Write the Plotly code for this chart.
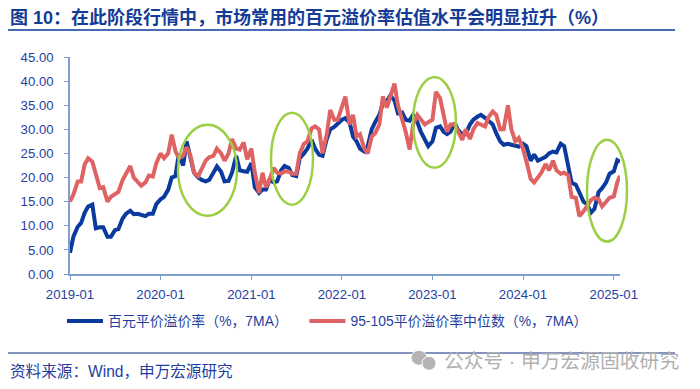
import plotly.graph_objects as go

TITLE = "图 10：在此阶段行情中，市场常用的百元溢价率估值水平会明显拉升（%）"
SOURCE = "资料来源：Wind，申万宏源研究"
WATERMARK = "公众号 · 申万宏源固收研究"
NAME_A = "百元平价溢价率（%，7MA）"
NAME_B = "95-105平价溢价率中位数（%，7MA）"

dates = [f"{y}-{m:02d}-{d:02d}" for y in range(2019, 2025) for m in range(1, 13) for d in (1, 15)]
dates += ["2025-01-01", "2025-01-15", "2025-01-26"]

parity_premium = [
    4.4, 7.8, 9.8, 10.6, 12.7, 14.0, 14.4, 9.5, 9.7, 9.7, 7.7, 7.7, 9.1, 9.3, 11.5, 12.5, 13.1, 12.4, 12.5, 12.2, 12.0, 12.5, 12.5, 14.5,
    15.5, 16, 17.5, 20, 20.3, 25, 22.5, 27.5, 23.5, 21, 20, 19.5, 19.2, 19.5, 21, 22.3, 21.2, 19.2, 19.3, 21, 24.5, 21.5, 21.3, 21.2,
    23, 18, 16.8, 17.5, 17.5, 19.5, 19, 19.2, 21.5, 22.4, 22, 20.5, 20.3, 24, 25, 26, 27.8, 26, 24.7, 24.5, 28, 30, 30.5, 31.2,
    32, 32.3, 31.4, 28.5, 27.5, 26, 25.4, 26.5, 30, 31.5, 33, 35.4, 35.8, 37, 36, 33.3, 33.5, 32, 31.8, 33, 31.5, 29.5, 28, 26.5,
    27.5, 30.3, 30.6, 29.5, 29, 29.5, 31.3, 29.8, 29, 29, 31, 32, 32.6, 33, 32.4, 31.8, 31, 29.2, 27.5, 26.8, 27, 26.8, 26.5, 26.4,
    27, 26.5, 23.5, 24.8, 23.5, 23.8, 24.3, 25, 25.4, 25.2, 27, 26.5, 22.3, 18.9, 18.5, 17, 15, 14.5, 12.7, 13.5, 17, 17.8, 19, 20.8,
    21.3, 23.6, 23.3,
]

median_premium = [
    15, 16.5, 19.2, 19.2, 22.7, 24, 23.3, 20.9, 17.8, 18, 15, 16, 16.6, 17, 19.5, 20.9, 22.4, 20, 19.2, 18.3, 19, 20.4, 20.2, 23,
    25, 24, 25, 28.9, 25.5, 24, 24.5, 26.3, 24.5, 21, 20.3, 21.7, 23.5, 24.2, 24.5, 26, 25, 23.5, 25, 28, 26, 25.8, 27.3, 23.8,
    26, 21, 16.8, 21, 18, 19.5, 22, 21, 20.8, 21.3, 21.2, 20.8, 20.8, 25, 27, 27.5, 30.2, 30.6, 30, 25, 29, 34, 32, 32,
    35, 36.8, 31, 33, 28.5, 29, 26, 25, 28.5, 29.2, 31, 36.8, 34.5, 37, 39.5, 35, 32, 29.5, 25.8, 31, 33, 32, 31, 31.5,
    32, 37.8, 36.4, 33, 29.5, 31, 31, 29.5, 27.8, 30, 28, 30, 31.3, 31, 30.6, 32.5, 33.7, 33, 30, 30, 35, 30, 27.5, 28.2,
    26, 23.3, 19.7, 19, 20.2, 21, 22.8, 21.5, 23.5, 21.5, 20.8, 21, 20.5, 16, 15.8, 12, 13, 14, 15.3, 15.8, 15.5, 14, 15, 15.8,
    16.1, 19, 20.4,
]

W, H = 700, 389
L, R, T, B = 70, 620, 57, 274.5
BLUE, RED, GREEN = "#0B3A9E", "#E06363", "#9BCF45"
TXT = "#1F3F9F"
FONT = "Liberation Sans, Noto Sans CJK SC, sans-serif"

def px(x):
    return (x - L) / (R - L)

def py(y):
    return (B - y) / (B - T)

fig = go.Figure()
fig.add_trace(go.Scatter(x=dates, y=parity_premium, name=NAME_A + "\u00a0" * 3, mode="lines",
                         line=dict(color=BLUE, width=4)))
fig.add_trace(go.Scatter(x=dates, y=median_premium, name=NAME_B, mode="lines",
                         line=dict(color=RED, width=4)))

shapes = []
for x0, x1, y0, y1 in [(178, 237, 125, 216), (271, 313, 113, 205), (413, 456, 77, 168), (587, 627, 140, 242)]:
    shapes.append(dict(type="circle", xref="paper", yref="paper", x0=px(x0), x1=px(x1), y0=py(y1), y1=py(y0),
                       line=dict(color=GREEN, width=2.5)))
for yy, col, wd in [(30, "#0B3A9E", 1.6), (353.7, "#0B2A80", 1.2)]:
    shapes.append(dict(type="line", xref="paper", yref="paper", x0=px(8), x1=px(675), y0=py(yy), y1=py(yy),
                       line=dict(color=col, width=wd)))
for x0, x1, y0, y1 in [(411, 427, 351, 366), (422, 436, 357, 371)]:
    shapes.append(dict(type="circle", xref="paper", yref="paper", x0=px(x0), x1=px(x1), y0=py(y1), y1=py(y0),
                       fillcolor="#B4B4B4", line=dict(color="#FFFFFF", width=1)))

annotations = [
    dict(text=f"<b>{TITLE}</b>", xref="paper", yref="paper", x=px(8), y=py(17), xanchor="left", yanchor="middle",
         showarrow=False, font=dict(family=FONT, size=18, color="#143C96")),
    dict(text=SOURCE, xref="paper", yref="paper", x=px(8), y=py(372), xanchor="left", yanchor="middle",
         showarrow=False, font=dict(family=FONT, size=15.6, color=TXT)),
    dict(text=WATERMARK, xref="paper", yref="paper", x=px(442), y=py(362), xanchor="left", yanchor="middle",
         showarrow=False, font=dict(family=FONT, size=19.8, color="#B0B0B0")),
]

fig.update_layout(
    width=W, height=H, margin=dict(l=L, r=W - R, t=T, b=H - B),
    paper_bgcolor="white", plot_bgcolor="white",
    font=dict(family=FONT, size=13.2, color=TXT),
    shapes=shapes, annotations=annotations,
    legend=dict(orientation="h", x=px(62), y=py(322), xanchor="left", yanchor="middle",
                font=dict(family=FONT, size=13.9, color=TXT), itemwidth=36, tracegroupgap=0,
                bgcolor="rgba(0,0,0,0)"),
    xaxis=dict(type="date", range=["2019-01-01", "2025-01-26"], tick0="2019-01-01", dtick="M12",
               tickformat="%Y-%m", ticks="outside", ticklen=4, tickcolor="#7F9FD0", showgrid=False,
               showline=True, linecolor="#7F9FD0", linewidth=1.5, zeroline=False, ticklabelstandoff=3),
    yaxis=dict(range=[0, 45], dtick=5, tickformat=".2f", ticks="outside", ticklen=4, tickcolor="#7F9FD0",
               showgrid=False, showline=True, linecolor="#7F9FD0", linewidth=1.5, zeroline=False, ticklabelstandoff=8),
)
assert len(dates) == len(parity_premium) == len(median_premium), (len(dates), len(parity_premium), len(median_premium))
fig.write_html("out.html", post_script="document.body.style.margin='0';", config={"displayModeBar": False})
